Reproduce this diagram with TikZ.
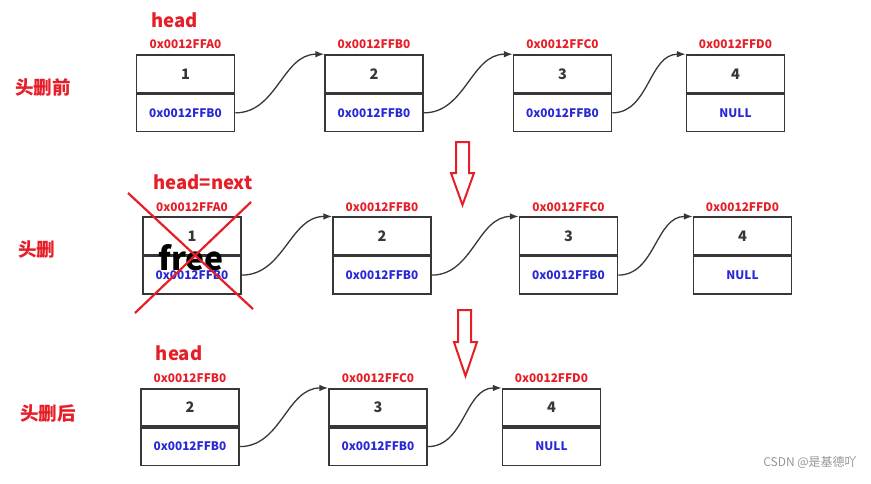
\documentclass[tikz,border=0pt]{standalone}
\usepackage{fontspec}
\setmainfont{Noto Sans CJK SC}
\usetikzlibrary{arrows.meta,positioning}
\definecolor{LabelRed}{RGB}{230,30,40}
\definecolor{PtrBlue}{RGB}{40,40,215}
\definecolor{BoxGray}{RGB}{55,55,55}
\definecolor{MarkGray}{RGB}{150,150,150}

\begin{document}
\begin{tikzpicture}[x=1pt,y=-1pt,>=Latex,
    cell/.style={draw=BoxGray,line width=1.6pt,minimum width=98pt,
      minimum height=37.5pt,inner sep=0pt},
    valcell/.style={cell,text=BoxGray,font=\fontsize{14.5}{16}\selectfont\bfseries},
    ptrcell/.style={cell,text=PtrBlue,font=\fontsize{11.8}{13}\selectfont\bfseries},
    addr/.style={text=LabelRed,font=\fontsize{11.8}{13}\selectfont\bfseries,inner sep=0pt},
    title/.style={text=LabelRed,font=\fontsize{18.5}{20}\selectfont\bfseries},
    link/.style={->,line width=1.3pt,BoxGray},
    bigdown/.style={draw=LabelRed,line width=2pt,line join=miter}]
  \useasboundingbox (0,0) rectangle (871,483);

  % before
  \node[title] (tbefore) at (43,88) {头删前};
  \foreach \i/\x/\v/\p/\a in {1/185.5/1/0x0012FFB0/0x0012FFA0,
      2/374/2/0x0012FFB0/0x0012FFB0,3/562.5/3/0x0012FFB0/0x0012FFC0,
      4/735.5/4/NULL/0x0012FFD0} {
    \node[valcell] (r1v\i) at (\x,73.75) {\v};
    \node[ptrcell,below=0pt of r1v\i] (r1p\i) {\p};
    \node[addr,above=5pt of r1v\i] (r1a\i) {\a};
  }
  \node[title,above=9pt of r1a1,xshift=-11pt] (r1head) {head};
  \foreach \i/\j in {1/2,2/3,3/4}
    \draw[link] (r1p\i.east) to[out=0,in=180] (r1v\j.north west);

  \draw[bigdown] (456,142) -- (469,142) -- (469,173) -- (474,173)
    -- (462.5,205) -- (451,173) -- (456,173) -- cycle;

  % delete
  \node[title] (tdel) at (37,250) {头删};
  \foreach \i/\x/\v/\p/\a in {1/192/1/0x0012FFB0/0x0012FFA0,
      2/382/2/0x0012FFB0/0x0012FFB0,3/568.5/3/0x0012FFB0/0x0012FFC0,
      4/742.5/4/NULL/0x0012FFD0} {
    \node[valcell] (r2v\i) at (\x,236) {\v};
    \node[ptrcell,below=0pt of r2v\i] (r2p\i) {\p};
    \node[addr,above=5pt of r2v\i] (r2a\i) {\a};
  }
  \node[title,above=9pt of r2a1,xshift=11pt] (r2head) {head=next};
  \foreach \i/\j in {1/2,2/3,3/4}
    \draw[link] (r2p\i.east) to[out=0,in=180] (r2v\j.north west);
  \node[font=\fontsize{32}{34}\selectfont\bfseries] (free) at (191,258) {free};
  \draw[LabelRed,line width=2.2pt] (128,193) -- (253,309);
  \draw[LabelRed,line width=2.2pt] (251,202) -- (135,313);

  \draw[bigdown] (458,310) -- (471,310) -- (471,342) -- (477,342)
    -- (465.5,376) -- (454,342) -- (458,342) -- cycle;

  % after
  \node[title] (tafter) at (48,414) {头删后};
  \foreach \i/\x/\v/\p/\a in {1/190/2/0x0012FFB0/0x0012FFB0,
      2/378/3/0x0012FFB0/0x0012FFC0,3/551.5/4/NULL/0x0012FFD0} {
    \node[valcell] (r3v\i) at (\x,407.5) {\v};
    \node[ptrcell,below=0pt of r3v\i] (r3p\i) {\p};
    \node[addr,above=5pt of r3v\i] (r3a\i) {\a};
  }
  \node[title,above=9pt of r3a1,xshift=-11pt] (r3head) {head};
  \foreach \i/\j in {1/2,2/3}
    \draw[link] (r3p\i.east) to[out=0,in=180] (r3v\j.north west);

  \node[text=MarkGray,font=\fontsize{12}{14}\selectfont] (mark) at (810,462)
    {CSDN @是基德吖};
\end{tikzpicture}
\end{document}
